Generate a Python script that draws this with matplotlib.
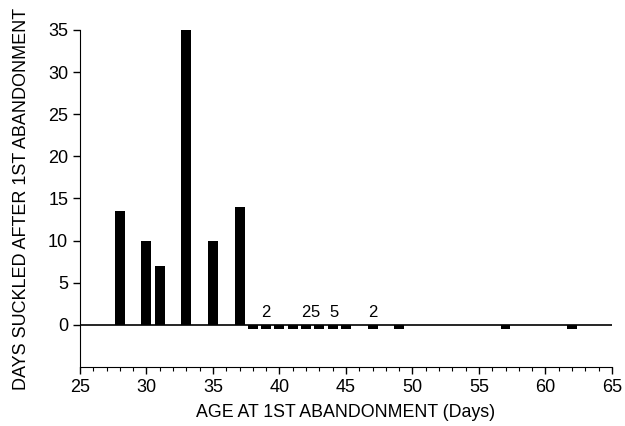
import matplotlib.pyplot as plt
from matplotlib.ticker import MultipleLocator

plt.rcParams['font.family'] = ['Liberation Sans', 'DejaVu Sans']

# idade no 1o abandono (dias) e dias mamando depois
idade = [28, 30, 31, 33, 35, 37, 38, 39, 40, 41, 42, 43, 44, 45, 47, 49, 57, 62]
dias = [13.5, 10, 7, 35, 10, 14, -0.5, -0.5, -0.5, -0.5, -0.5, -0.5, -0.5, -0.5,
        -0.5, -0.5, -0.5, -0.5]

# numero de filhotes sobre as barras
rotulo_x = [39, 42, 42.7, 44.1, 47]
rotulo_txt = ['2', '2', '5', '5', '2']

fig = plt.figure(figsize=(6.25, 4.26), dpi=100)
ax = fig.add_axes([0.128, 0.1385, 0.851, 0.7911])

ax.bar(idade, dias, width=0.75, color='black')
ax.axhline(0, color='black', linewidth=1.2)

for x, t in zip(rotulo_x, rotulo_txt):
    ax.text(x, 0.6, t, ha='center', va='bottom', fontsize=12)

ax.set_xlim(25, 65)
ax.set_ylim(-5, 35)
ax.set_xticks(range(25, 66, 5))
ax.xaxis.set_minor_locator(MultipleLocator(1))
ax.set_yticks(range(0, 36, 5))

ax.spines['top'].set_visible(False)
ax.spines['right'].set_visible(False)
ax.tick_params(axis='both', which='major', direction='out', length=5, width=1, labelsize=13, colors='black')
ax.tick_params(axis='x', which='minor', direction='out', length=3, width=0.8)

ax.set_xlabel('AGE AT 1ST ABANDONMENT (Days)', fontsize=12.8, labelpad=6)
ax.set_ylabel('DAYS SUCKLED AFTER 1ST ABANDONMENT', fontsize=13, labelpad=13)

fig.savefig('out.png', dpi=100)
